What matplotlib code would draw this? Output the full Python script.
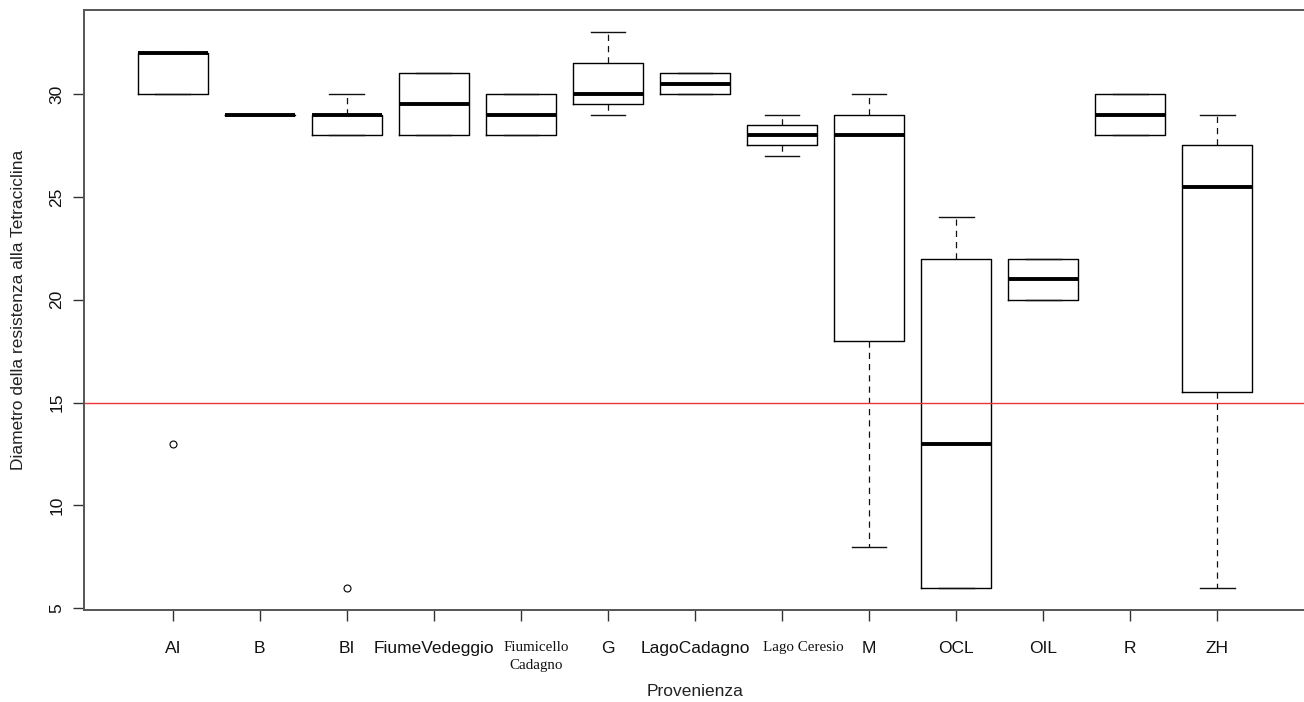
import matplotlib
matplotlib.use("Agg")
import matplotlib.pyplot as plt
from matplotlib.transforms import ScaledTranslation

# summary statistics
cats = ["AI", "B", "BI", "FiumeVedeggio", "Fiumicello\nCadagno", "G", "LagoCadagno",
        "Lago Ceresio", "M", "OCL", "OIL", "R", "ZH"]
whislo = [30, 29, 28, 28, 28, 29, 30, 27, 8, 6, 20, 28, 6]
q1 = [30, 29, 28, 28, 28, 29.5, 30, 27.5, 18, 6, 20, 28, 15.5]
med = [32, 29, 29, 29.5, 29, 30, 30.5, 28, 28, 13, 21, 29, 25.5]
q3 = [32, 29, 29, 31, 30, 31.5, 31, 28.5, 29, 22, 22, 30, 27.5]
whishi = [32, 29, 30, 31, 30, 33, 31, 29, 30, 24, 22, 30, 29]
fliers = [[13], [], [6], [], [], [], [], [], [], [], [], [], []]
threshold = 15
yticks = [5, 10, 15, 20, 25, 30]
# labels drawn in a serif face, shifted right as in the original (px)
serif_shift = {"Fiumicello\nCadagno": 15, "Lago Ceresio": 21}

plt.rcParams["font.family"] = ["Liberation Sans", "DejaVu Sans"]

fig = plt.figure(figsize=(13.04, 7.02), dpi=100)
ax = fig.add_axes([84 / 1304, 1 - 610 / 702, 1222 / 1304, 600 / 702])

stats = []
for i in range(len(cats)):
    stats.append(dict(med=med[i], q1=q1[i], q3=q3[i], whislo=whislo[i],
                      whishi=whishi[i], fliers=fliers[i]))

pos = list(range(1, len(cats) + 1))
ax.bxp(stats, positions=pos, widths=0.8, showfliers=True,
       boxprops=dict(color="black", linewidth=1.0),
       medianprops=dict(color="black", linewidth=2.8, solid_capstyle="butt"),
       whiskerprops=dict(color="#111111", linewidth=0.9, linestyle=(0, (5, 4))),
       capprops=dict(color="#111111", linewidth=1.0),
       capwidths=0.4,
       flierprops=dict(marker="o", markersize=5, markerfacecolor="none",
                       markeredgecolor="black", markeredgewidth=0.8))

ax.axhline(threshold, color="#ee3333", linewidth=1.0)

ax.set_xlim(-0.02, 14.02)
ax.set_ylim(4.92, 34.08)

ax.set_yticks(yticks)
ax.set_yticklabels([str(t) for t in yticks], rotation=90, va="center")
ax.set_xticks(pos)
ax.set_xticklabels(cats)

ax.tick_params(axis="both", colors="#333333", labelcolor="#111111",
               length=8, width=1.0, labelsize=12.5, direction="out")
ax.tick_params(axis="x", pad=14)
ax.tick_params(axis="y", pad=6)

for tick in ax.xaxis.get_major_ticks():
    lab = tick.label1
    if lab.get_text() in serif_shift:
        lab.set_family(["Liberation Serif", "DejaVu Serif"])
        lab.set_fontsize(10.8)
        lab.set_linespacing(1.5)
        dx = serif_shift[lab.get_text()] / 100
        lab.set_transform(lab.get_transform() + ScaledTranslation(dx, 0, fig.dpi_scale_trans))

for side in ["top", "bottom", "left", "right"]:
    ax.spines[side].set_color("#555555")
    ax.spines[side].set_linewidth(1.4)

ax.set_xlabel("Provenienza", fontsize=12.5, color="#222222", labelpad=9)
ax.set_ylabel("Diametro della resistenza alla Tetraciclina", fontsize=12.5,
              color="#222222", labelpad=17)

fig.savefig("out.png", dpi=100)
